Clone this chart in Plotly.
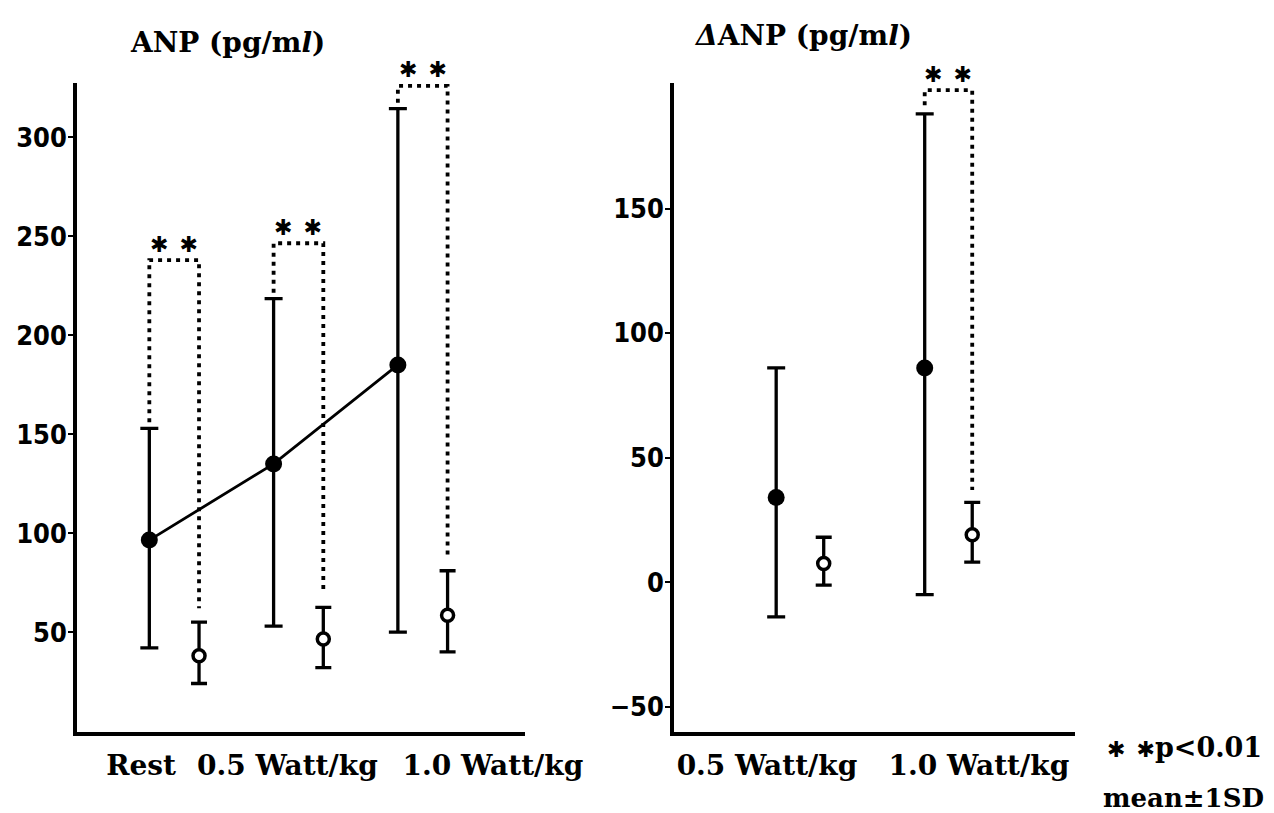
import plotly.graph_objects as go

# ---------------- data ----------------
left_categories = ["Rest", "0.5 Watt/kg", "1.0 Watt/kg"]
anp_filled_mean = [96.5, 135.0, 185.0]
anp_filled_upper = [153.0, 218.5, 314.5]
anp_filled_lower = [42.0, 53.0, 50.0]
anp_open_mean = [38.0, 46.5, 58.5]
anp_open_upper = [55.0, 62.5, 81.0]
anp_open_lower = [24.0, 32.0, 40.0]
anp_bracket_top = [238.0, 246.5, 326.0]
left_yticks = [50, 100, 150, 200, 250, 300]

right_categories = ["0.5 Watt/kg", "1.0 Watt/kg"]
danp_filled_mean = [34.0, 86.0]
danp_filled_upper = [86.0, 188.0]
danp_filled_lower = [-14.0, -5.0]
danp_open_mean = [7.5, 19.0]
danp_open_upper = [18.0, 32.0]
danp_open_lower = [-1.2, 8.0]
danp_bracket_top = [None, 197.5]
right_yticks = [-50, 0, 50, 100, 150]

# ---------------- layout constants ----------------
W, H = 1274, 813
def px_x(p):
    return p / W
def px_y(p):
    return 1 - p / H

L_OFF = 0.2      # filled / open offset in left panel (category units)
R_OFF = 0.16
left_label_pos = [-0.266, 0.911, 2.565]
right_label_pos = [-0.222, 1.205]

SERIF = "DejaVu Serif"
NUM = "DejaVu Sans Condensed"
STAR_FONT = "DejaVu Sans"
STARS = "✱\u2002✱"

fig = go.Figure()


def add_panel(xa, ya, n, off, fm, fu, fl, om, ou, ol, btop, gap_l, gap_r, connect, capw):
    xs_f = [i - off for i in range(n)]
    xs_o = [i + off for i in range(n)]
    # significance brackets (dotted)
    bx, by = [], []
    for i in range(n):
        if btop[i] is None:
            continue
        bx += [xs_f[i], xs_f[i], xs_o[i], xs_o[i], None]
        by += [fu[i] + gap_l, btop[i], btop[i], ou[i] + gap_r, None]
    fig.add_trace(go.Scatter(x=bx, y=by, mode="lines", xaxis=xa, yaxis=ya,
                             line=dict(color="black", width=3.8, dash="4px,5px"),
                             hoverinfo="skip", showlegend=False))
    # filled circles
    fig.add_trace(go.Scatter(
        x=xs_f, y=fm, mode="lines+markers" if connect else "markers",
        xaxis=xa, yaxis=ya,
        line=dict(color="black", width=2.8),
        marker=dict(color="black", size=17, symbol="circle"),
        error_y=dict(type="data", symmetric=False,
                     array=[u - m for u, m in zip(fu, fm)],
                     arrayminus=[m - l for m, l in zip(fm, fl)],
                     color="black", thickness=3.3, width=capw),
        showlegend=False))
    # open circles
    fig.add_trace(go.Scatter(
        x=xs_o, y=om, mode="markers", xaxis=xa, yaxis=ya,
        marker=dict(color="white", size=12, symbol="circle",
                    line=dict(color="black", width=3.5)),
        error_y=dict(type="data", symmetric=False,
                     array=[u - m for u, m in zip(ou, om)],
                     arrayminus=[m - l for m, l in zip(om, ol)],
                     color="black", thickness=3.3, width=capw - 1),
        showlegend=False))
    # stars
    for i in range(n):
        if btop[i] is None:
            continue
        fig.add_annotation(x=(xs_f[i] + xs_o[i]) / 2, y=btop[i], xref=xa, yref=ya,
                           text=STARS, showarrow=False, yanchor="middle", yshift=16,
                           font=dict(family=STAR_FONT, size=22, color="black"))


add_panel("x", "y", 3, L_OFF, anp_filled_mean, anp_filled_upper, anp_filled_lower,
          anp_open_mean, anp_open_upper, anp_open_lower, anp_bracket_top,
          3.0, 7.0, True, 9)
add_panel("x2", "y2", 2, R_OFF, danp_filled_mean, danp_filled_upper, danp_filled_lower,
          danp_open_mean, danp_open_upper, danp_open_lower, danp_bracket_top,
          3.5, 5.0, False, 9)

axis_common = dict(showline=True, linecolor="black", linewidth=3.5, showgrid=False,
                   zeroline=False, automargin=False, mirror=False)
ydom = [px_y(732), px_y(83)]
xtickfont = dict(family=SERIF, size=28, color="black", weight="bold")
ytickfont = dict(family=NUM, size=27, color="black", weight="bold")

fig.update_layout(
    width=W, height=H,
    margin=dict(l=0, r=0, t=0, b=0),
    plot_bgcolor="white", paper_bgcolor="white",
    showlegend=False,
    xaxis=dict(domain=[px_x(77), px_x(525)], range=[-0.782, 2.823],
               tickvals=left_label_pos, ticktext=left_categories, ticks="",
               ticklabelstandoff=6, tickfont=xtickfont,
               anchor="y", **axis_common),
    yaxis=dict(domain=ydom, range=[-0.5, 327.5], tickvals=left_yticks,
               ticks="outside", ticklen=5, tickwidth=2, tickcolor="black",
               ticklabelstandoff=-4, tickfont=ytickfont,
               anchor="x", **axis_common),
    xaxis2=dict(domain=[px_x(674), px_x(1075)], range=[-0.848, 1.852],
                tickvals=right_label_pos, ticktext=right_categories, ticks="",
                ticklabelstandoff=6, tickfont=xtickfont,
                anchor="y2", **axis_common),
    yaxis2=dict(domain=ydom, range=[-60.2, 200.4], tickvals=right_yticks,
                ticks="outside", ticklen=5, tickwidth=2, tickcolor="black",
                ticklabelstandoff=-4, tickfont=ytickfont,
                tickformat="d",
                anchor="x2", **axis_common),
)

# titles
fig.add_annotation(x=px_x(227), y=px_y(43), xref="paper", yref="paper",
                   text="ANP (pg/m<i>l</i>)", showarrow=False,
                   xanchor="center", yanchor="middle",
                   font=dict(family=SERIF, size=28, color="black", weight="bold"))
fig.add_annotation(x=px_x(803), y=px_y(36), xref="paper", yref="paper",
                   text="<i>Δ</i>ANP (pg/m<i>l</i>)", showarrow=False,
                   xanchor="center", yanchor="middle",
                   font=dict(family=SERIF, size=28, color="black", weight="bold"))
# note
fig.add_annotation(x=px_x(1264), y=px_y(747), xref="paper", yref="paper",
                   text="<span style='font-family:DejaVu Sans;font-size:22px'>✱\u2002✱</span>p&lt;0.01",
                   showarrow=False, xanchor="right", yanchor="middle",
                   font=dict(family=SERIF, size=27, color="black", weight="bold"))
fig.add_annotation(x=px_x(1266), y=px_y(798), xref="paper", yref="paper",
                   text="mean±1SD", showarrow=False, xanchor="right", yanchor="middle",
                   font=dict(family=SERIF, size=26, color="black", weight="bold"))

fig.write_html("out.html")
